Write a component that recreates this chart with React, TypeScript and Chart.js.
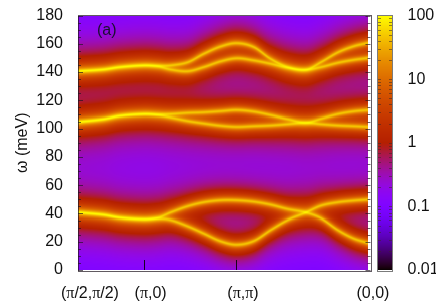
import React, { useEffect, useRef } from "react";
import { Chart, registerables } from "chart.js";

Chart.register(...registerables);

// Ridge lines: omega (meV) at each path position.
// Cell intensities are derived from these ridges (line-shape sum), the source image's
// full cell matrix cannot be read value by value.
const pathK = [0, 0.85, 1.42, 2.22, 2.69, 3.13, 3.71, 4.25, 4.82, 5.36, 5.94, 6.51, 7.09, 7.7, 8.21, 8.78, 9.32, 9.8];
const acousticA = [40.6, 39, 37, 35.9, 36.8, 40.6, 45, 47.8, 49.2, 49.2, 48.2, 46.1, 43, 40.6, 36.6, 28.3, 22.3, 19.2];
const acousticB = [40.6, 39, 37, 35.9, 36.4, 35.4, 31, 25.9, 20.4, 18, 20.6, 28.3, 35.4, 40.6, 45.4, 47.8, 49, 49.7];
const middleA = [104.8, 106.7, 109, 110.2, 109.9, 110.2, 111, 111.4, 112.2, 113, 111.9, 109.5, 106.7, 104.3, 107, 110.2, 112.1, 113];
const middleB = [104.8, 106.7, 109, 110.2, 109.7, 107.9, 105.5, 103.8, 102.2, 101.4, 101.9, 102.4, 103.3, 104.3, 103.3, 102.4, 101.9, 101.4];
const upperA = [140.6, 141.8, 143.5, 144.7, 144.4, 144.7, 147, 153, 158.2, 160.6, 157.8, 149.4, 143.5, 141.6, 147, 154, 158.4, 160.8];
const upperB = [140.6, 141.8, 143.5, 144.7, 144.1, 141.8, 140.6, 143.5, 147.6, 149.8, 148.3, 145.9, 143, 141.6, 143.5, 146.6, 148.7, 150];
const bands = [acousticA, acousticB, middleA, middleB, upperA, upperB];

const kTickValues = [0, 2.22, 5.36, 9.8];
const kTickLabels = ["(π/2,π/2)", "(π,0)", "(π,π)", "(0,0)"];
const kLabelShift = [-17, -9, -9, -11];
const colorDecades = [0.01, 0.1, 1, 10, 100];

const K_MAX = 9.9;
const STRENGTH = 50;
const GAMMA = 1.05;
const BACKGROUND = 0.03;
const COLS = 290;
const ROWS = 252;

function ridge(band: number[], k: number) {
  let i = 0;
  while (i < pathK.length - 2 && k > pathK[i + 1]) i++;
  const slope = (a: number, b: number) => (band[b] - band[a]) / (pathK[b] - pathK[a]);
  const x0 = pathK[i], x1 = pathK[i + 1], h = x1 - x0, t = (k - x0) / h;
  const m0 = i === 0 ? slope(0, 1) : slope(i - 1, i + 1);
  const m1 = i + 2 >= pathK.length ? slope(i, i + 1) : slope(i, i + 2);
  const t2 = t * t, t3 = t2 * t;
  return (2 * t3 - 3 * t2 + 1) * band[i] + (t3 - 2 * t2 + t) * h * m0 + (-2 * t3 + 3 * t2) * band[i + 1] + (t3 - t2) * h * m1;
}

function palette(v: number) {
  const x = Math.min(1, Math.max(0, (Math.log10(v) + 2) / 4));
  const r = Math.sqrt(x), g = x * x * x, b = Math.max(0, Math.sin(2 * Math.PI * x));
  return `rgb(${Math.round(r * 255)},${Math.round(g * 255)},${Math.round(b * 255)})`;
}

function buildCells() {
  const cells: { x: number; y: number; v: number }[] = [];
  for (let c = 0; c < COLS; c++) {
    const k = ((c + 0.5) * 9.8) / COLS;
    const centres = bands.map((b) => ridge(b, k));
    for (let r = 0; r < ROWS; r++) {
      const w = ((r + 0.5) * 180) / ROWS;
      let v = BACKGROUND;
      for (const wb of centres) v += STRENGTH / ((w - wb) * (w - wb) + GAMMA * GAMMA);
      cells.push({ x: k, y: w, v });
    }
  }
  return cells;
}

const drawMixed = (ctx: CanvasRenderingContext2D, text: string, x: number, y: number) => {
  let cx = x;
  for (const ch of text) {
    ctx.font = ch === "π" ? "16px 'Liberation Serif'" : "16px 'Liberation Sans'";
    ctx.fillText(ch, cx, y);
    cx += ctx.measureText(ch).width;
  }
};

const heatPlugin = {
  id: "heat",
  beforeDatasetsDraw(chart: any) {
    const { ctx, scales } = chart;
    const xs = scales.x, ys = scales.y, cb = scales.cb;
    const cw = 9.8 / COLS;
    const ch = 180 / ROWS;
    const cells = chart.data.datasets[0].data;
    ctx.save();
    for (const p of cells) {
      const l = Math.round(xs.getPixelForValue(p.x - cw / 2));
      const r = Math.round(xs.getPixelForValue(p.x + cw / 2));
      const t = Math.round(ys.getPixelForValue(p.y + ch / 2));
      const b = Math.round(ys.getPixelForValue(p.y - ch / 2));
      ctx.fillStyle = palette(p.v);
      ctx.fillRect(l, t, r - l, b - t);
    }
    // colour box
    const bx = 378, bw = 14;
    for (let py = Math.round(cb.top); py < Math.round(cb.bottom); py++) {
      ctx.fillStyle = palette(cb.getValueForPixel(py + 0.5));
      ctx.fillRect(bx, py, bw, 1);
    }
    ctx.restore();
  },
  afterDatasetsDraw(chart: any) {
    const { ctx, scales, chartArea: a } = chart;
    const xs = scales.x, ys = scales.y, cb = scales.cb;
    ctx.save();
    ctx.lineWidth = 1;
    const line = (x0: number, y0: number, x1: number, y1: number) => {
      ctx.beginPath();
      ctx.moveTo(x0, y0);
      ctx.lineTo(x1, y1);
      ctx.stroke();
    };
    // omega ticks on both sides
    ctx.strokeStyle = "rgba(30,20,30,0.65)";
    for (let w = 0; w <= 180; w += 5) {
      const py = Math.round(ys.getPixelForValue(w)) + 0.5;
      const len = w % 20 === 0 ? 5 : 3;
      line(a.left, py, a.left + len, py);
      line(a.right, py, a.right - len, py);
    }
    // path ticks
    ctx.strokeStyle = "rgba(0,0,0,0.85)";
    kTickValues.slice(1, 3).forEach((k) => {
      const px = Math.round(xs.getPixelForValue(k)) + 0.5;
      line(px, a.bottom, px, a.bottom - 10);
    });
    // frame
    ctx.strokeStyle = "rgba(30,20,30,0.7)";
    ctx.strokeRect(Math.round(a.left) + 0.5, Math.round(a.top) - 0.5, Math.round(a.right - a.left), Math.round(a.bottom - a.top) + 1);
    // colour box frame and ticks
    const bx = 378, bw = 14;
    ctx.strokeStyle = "rgba(90,90,90,0.8)";
    ctx.strokeRect(bx - 0.5, Math.round(cb.top) - 0.5, bw + 1, Math.round(cb.bottom - cb.top) + 1);
    ctx.strokeStyle = "rgba(60,40,40,0.55)";
    colorDecades.slice(0, -1).forEach((d) => {
      for (let m = 1; m < 10; m++) {
        const py = Math.round(cb.getPixelForValue(d * m)) + 0.5;
        if (m === 1 && d === 0.01) continue;
        line(bx, py, bx + 3, py);
        line(bx + bw, py, bx + bw - 3, py);
      }
    });
    // text
    ctx.fillStyle = "#111";
    ctx.textBaseline = "middle";
    ctx.textAlign = "left";
    kTickLabels.forEach((lab, i) => drawMixed(ctx, lab, xs.getPixelForValue(kTickValues[i]) + kLabelShift[i], 294));
    ctx.fillStyle = "#1a1030";
    ctx.font = "16px 'Liberation Sans'";
    ctx.fillText("(a)", 97, 31);
    ctx.restore();
  },
};

export default function App() {
  const ref = useRef<HTMLCanvasElement>(null);
  useEffect(() => {
    const chart = new Chart(ref.current as HTMLCanvasElement, {
      type: "scatter",
      data: { datasets: [{ data: buildCells(), pointRadius: 0, label: "S(k,ω)" }] as any },
      plugins: [heatPlugin],
      options: {
        animation: false,
        responsive: false,
        events: [],
        layout: { autoPadding: false, padding: { top: 15.5, bottom: 0, left: 0, right: 0 } },
        plugins: { legend: { display: false }, tooltip: { enabled: false } },
        scales: {
          x: {
            type: "linear",
            min: 0,
            max: K_MAX,
            grid: { display: false },
            border: { display: false },
            ticks: { display: false },
            afterFit: (s: any) => { s.height = 35; s.paddingLeft = 0; s.paddingRight = 0; },
          },
          y: {
            type: "linear",
            min: 0,
            max: 180,
            grid: { display: false, drawTicks: false },
            border: { display: false },
            ticks: { stepSize: 20, color: "#111", padding: 15, font: { family: "'Liberation Sans'", size: 16 } },
            title: { display: true, text: "ω (meV)", color: "#111", padding: { top: 13, bottom: 0 }, font: { family: "'Liberation Sans'", size: 16 } },
            afterFit: (s: any) => { s.width = 78; s.paddingTop = 0; s.paddingBottom = 0; },
          },
          cb: {
            type: "logarithmic",
            position: "right",
            min: 0.01,
            max: 100,
            grid: { display: false, drawTicks: false },
            border: { display: false },
            ticks: {
              color: "#111",
              padding: 37,
              autoSkip: false,
              maxRotation: 0,
              font: { family: "'Liberation Sans'", size: 16 },
              callback: (v: any) => (colorDecades.some((d) => Math.abs(d - v) < d * 0.01) ? String(v) : ""),
            },
            afterFit: (s: any) => { s.width = 65.5; s.paddingTop = 0; s.paddingBottom = 0; },
          },
        },
      } as any,
    });
    return () => chart.destroy();
  }, []);
  return <canvas ref={ref} width={436} height={305} style={{ position: "fixed", left: 0, top: 0, background: "#fff" }} />;
}
